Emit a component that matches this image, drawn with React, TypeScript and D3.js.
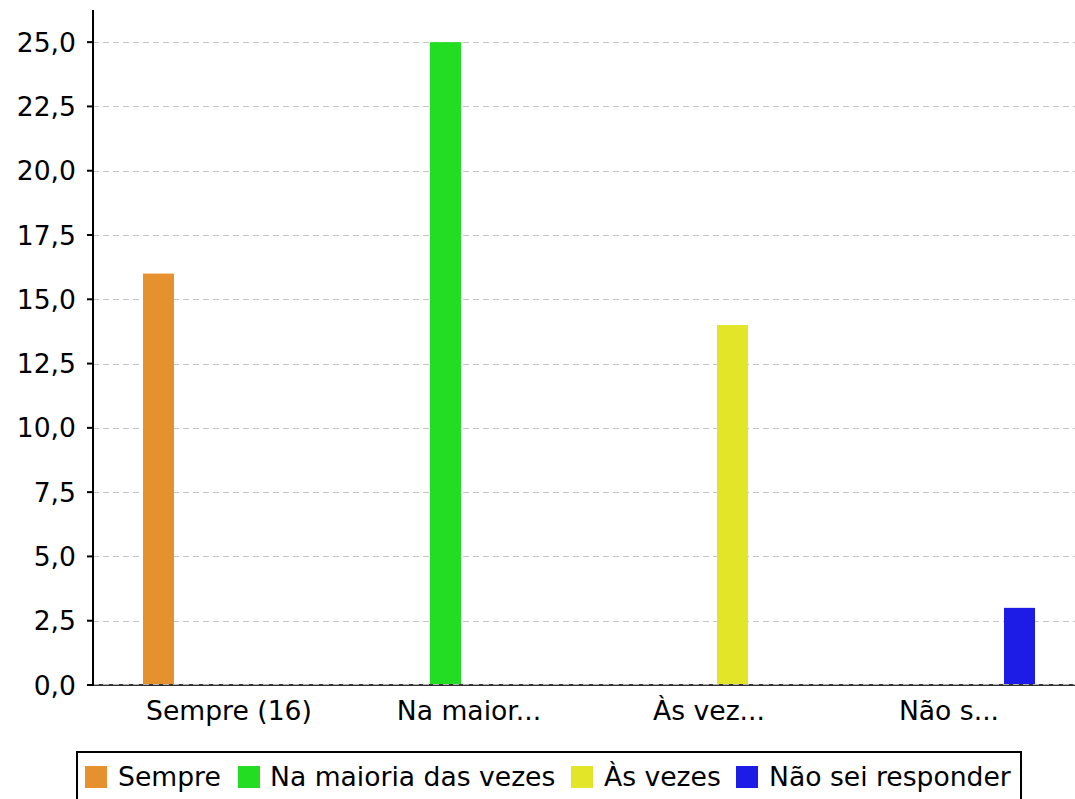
import React from "react";
import * as d3 from "d3";

const categories = ["Sempre (16)", "Na maior...", "Às vez...", "Não s..."];
const seriesNames = ["Sempre", "Na maioria das vezes", "Às vezes", "Não sei responder"];
const sempreValues = [16, 0, 0, 0];
const maioriaValues = [0, 25, 0, 0];
const asVezesValues = [0, 0, 14, 0];
const naoSeiValues = [0, 0, 0, 3];
const seriesColors = ["#e5922e", "#22dd22", "#e2e528", "#1c1ce6"];
const yTicks = [0, 2.5, 5, 7.5, 10, 12.5, 15, 17.5, 20, 22.5, 25];

const seriesValues = [sempreValues, maioriaValues, asVezesValues, naoSeiValues];

const W = 1075;
const H = 799;
const FONT = "'DejaVu Sans', sans-serif";
const FS = 26.6;

export default function App() {
  const axisX = 93;
  const y = d3.scaleLinear().domain([0, 26.25]).range([685, 10]);
  const x0 = d3.scaleBand<string>().domain(categories).range([109, 1069]).padding(0);
  const p = 16 / 47;
  const x1 = d3
    .scaleBand<string>()
    .domain(seriesNames)
    .range([26, 214])
    .paddingInner(p)
    .paddingOuter(p / 2);
  const fmt = (v: number) => v.toFixed(1).replace(".", ",");

  // legend layout
  const legendItems = [
    { sq: 85, tx: 118 },
    { sq: 238, tx: 270 },
    { sq: 571, tx: 604 },
    { sq: 736, tx: 769 },
  ];

  return (
    <svg
      width={W}
      height={H}
      style={{ position: "absolute", left: 0, top: 0, background: "#fff" }}
      fontFamily={FONT}
    >
      <rect x={0} y={0} width={W} height={H} fill="#fff" />
      {/* gridlines */}
      {yTicks.map((t) => (
        <line
          key={"g" + t}
          x1={axisX}
          x2={W}
          y1={Math.round(y(t)) + 0.5}
          y2={Math.round(y(t)) + 0.5}
          stroke="#c4c4c4"
          strokeWidth={1}
          strokeDasharray="6,4"
        />
      ))}
      {/* bars */}
      {seriesValues.map((vals, si) =>
        categories.map((c, ci) =>
          vals[ci] > 0 ? (
            <rect
              key={si + "-" + ci}
              x={(x0(c) as number) + (x1(seriesNames[si]) as number)}
              y={y(vals[ci])}
              width={x1.bandwidth()}
              height={y(0) - y(vals[ci])}
              fill={seriesColors[si]}
            />
          ) : null
        )
      )}
      {/* x axis */}
      <line x1={axisX} x2={W} y1={685} y2={685} stroke="#333" strokeWidth={2} />
      <line x1={axisX} x2={W} y1={684.5} y2={684.5} stroke="#b0b0b0" strokeWidth={1} strokeDasharray="6,4" />
      {/* y axis */}
      <line x1={axisX} x2={axisX} y1={10} y2={686} stroke="#000" strokeWidth={2} />
      {yTicks.map((t) => (
        <g key={"t" + t}>
          <line x1={axisX - 6} x2={axisX} y1={y(t)} y2={y(t)} stroke="#000" strokeWidth={2} />
          <text
            x={76}
            y={y(t)}
            textAnchor="end"
            dominantBaseline="central"
            fontSize={FS}
            fill="#000"
          >
            {fmt(t)}
          </text>
        </g>
      ))}
      {/* category labels */}
      {categories.map((c) => (
        <text
          key={c}
          x={(x0(c) as number) + x0.bandwidth() / 2}
          y={720}
          textAnchor="middle"
          fontSize={FS}
          fill="#000"
        >
          {c}
        </text>
      ))}
      {/* legend */}
      <rect x={77} y={752} width={944} height={80} fill="#fff" stroke="#000" strokeWidth={2} />
      {seriesNames.map((s, i) => (
        <g key={s}>
          <rect x={legendItems[i].sq} y={766} width={22} height={22} fill={seriesColors[i]} />
          <text x={legendItems[i].tx} y={786} fontSize={FS} fill="#000">
            {s}
          </text>
        </g>
      ))}
    </svg>
  );
}
